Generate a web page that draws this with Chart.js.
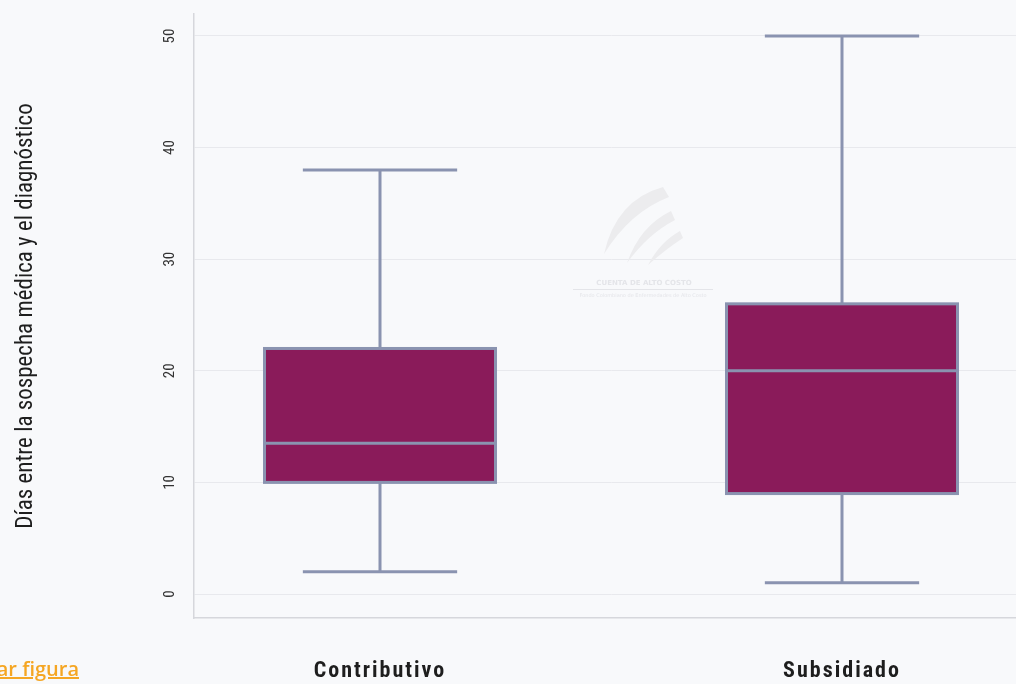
<!DOCTYPE html>
<html>
<head>
<meta charset="utf-8">
<script src="https://cdn.jsdelivr.net/npm/chart.js@4.4.0/dist/chart.umd.min.js"></script>
<style>
  html, body { margin: 0; padding: 0; background: #f8f9fb; overflow: hidden; }
  .wrap { position: relative; width: 1040px; height: 684px; }
  .download {
    position: absolute; top: 655px; right: 961px; white-space: nowrap;
    font-family: 'Open Sans', Lato, sans-serif; font-weight: 600; font-size: 20px;
    color: #f5a623; text-decoration: underline;
  }
</style>
</head>
<body>
<div class="wrap">
  <canvas id="myChart" width="1040" height="684"></canvas>
  <span class="download">Descargar figura</span>
</div>
<script>
// datos del boxplot
const categories = ['Contributivo', 'Subsidiado'];
const whiskerLow = [2, 1];
const q1 = [10, 9];
const median = [13.5, 20];
const q3 = [22, 26];
const whiskerHigh = [38, 50];
const yTicks = [0, 10, 20, 30, 40, 50];

const boxColor = '#8a1b5a';
const edgeColor = '#8a93b0';
const condensed = "'Roboto Condensed', 'DejaVu Sans Condensed', sans-serif";

// dibuja las cajas con las escalas del chart
const boxPlot = {
    id: 'boxPlot',
    afterDatasetsDraw(chart) {
        const {ctx, scales: {x, y}} = chart;
        const boxHalf = 0.25;
        const capHalf = 0.167;
        ctx.save();
        ctx.lineWidth = 3;
        ctx.strokeStyle = edgeColor;
        categories.forEach((cat, i) => {
            const cx = x.getPixelForValue(i);
            const lo = y.getPixelForValue(whiskerLow[i]);
            const hi = y.getPixelForValue(whiskerHigh[i]);
            const b1 = y.getPixelForValue(q1[i]);
            const b3 = y.getPixelForValue(q3[i]);
            const md = y.getPixelForValue(median[i]);

            ctx.beginPath();
            ctx.moveTo(cx, lo); ctx.lineTo(cx, b1);
            ctx.moveTo(cx, b3); ctx.lineTo(cx, hi);
            ctx.moveTo(x.getPixelForValue(i - capHalf), lo); ctx.lineTo(x.getPixelForValue(i + capHalf), lo);
            ctx.moveTo(x.getPixelForValue(i - capHalf), hi); ctx.lineTo(x.getPixelForValue(i + capHalf), hi);
            ctx.stroke();

            const left = x.getPixelForValue(i - boxHalf);
            const right = x.getPixelForValue(i + boxHalf);
            ctx.fillStyle = boxColor;
            ctx.fillRect(left, b3, right - left, b1 - b3);
            ctx.strokeRect(left, b3, right - left, b1 - b3);

            ctx.beginPath();
            ctx.moveTo(left, md); ctx.lineTo(right, md);
            ctx.stroke();
        });
        ctx.restore();
        // las etiquetas del eje x (z: 1) van con espaciado
        ctx.letterSpacing = '2px';
    },
    afterDraw(chart) {
        chart.ctx.letterSpacing = '0px';
    }
};

// marca de agua (logo tenue)
const watermark = {
    id: 'watermark',
    beforeDatasetsDraw(chart) {
        const {ctx} = chart;
        ctx.save();
        ctx.fillStyle = '#ececee';
        const leaves = [
            [604, 254, 616, 200, 663, 187, 669, 197, 630, 212],
            [627, 263, 640, 226, 671, 211, 675, 220, 648, 234],
            [648, 265, 660, 242, 680, 231, 683, 238, 666, 249],
        ];
        leaves.forEach(l => {
            ctx.beginPath();
            ctx.moveTo(l[0], l[1]);
            ctx.quadraticCurveTo(l[2], l[3], l[4], l[5]);
            ctx.lineTo(l[6], l[7]);
            ctx.quadraticCurveTo(l[8], l[9], l[0], l[1]);
            ctx.fill();
        });

        ctx.fillStyle = '#e4e5e9';
        ctx.textAlign = 'center';
        ctx.font = "bold 7px 'DejaVu Sans', sans-serif";
        ctx.fillText('CUENTA DE ALTO COSTO', 644, 285);
        ctx.fillRect(573, 289, 140, 1);
        ctx.font = "5px 'DejaVu Sans', sans-serif";
        ctx.fillText('Fondo Colombiano de Enfermedades de Alto Costo', 643, 297);
        ctx.restore();
    }
};

const ctx = document.getElementById('myChart').getContext('2d');
const myChart = new Chart(ctx, {
    type: 'scatter',
    plugins: [boxPlot, watermark],
    data: {
        datasets: [{
            data: categories.map((c, i) => ({x: i, y: median[i]})),
            pointRadius: 0,
            pointHoverRadius: 0,
        }]
    },
    options: {
        responsive: false,
        animation: false,
        events: [],
        layout: {padding: {top: 14, right: 12, bottom: 2, left: 0}},
        plugins: {legend: {display: false}, tooltip: {enabled: false}},
        scales: {
            x: {
                type: 'linear',
                min: -0.4026,
                max: 1.4026,
                afterBuildTicks: s => { s.ticks = categories.map((c, i) => ({value: i})); },
                afterFit: s => { s.height = 64; },
                grid: {display: false, drawTicks: false},
                border: {display: true, color: '#d6d7dc', width: 1.5},
                ticks: {
                    z: 1,
                    autoSkip: false,
                    maxRotation: 0,
                    padding: 40,
                    color: '#1e1e1e',
                    font: {family: condensed, size: 22, weight: 'bold'},
                    callback: v => categories[v],
                },
            },
            y: {
                min: -2.15,
                max: 51.97,
                afterBuildTicks: s => { s.ticks = yTicks.map(v => ({value: v})); },
                afterFit: s => { s.width = 194; s.paddingTop = 0; s.paddingBottom = 0; },
                grid: {color: '#e8e9ed', drawTicks: false},
                border: {display: true, color: '#d6d7dc', width: 1.5},
                ticks: {
                    minRotation: 90,
                    maxRotation: 90,
                    crossAlign: 'center',
                    padding: 16,
                    color: '#333',
                    font: {family: condensed, size: 15},
                },
                title: {
                    display: true,
                    text: 'Días entre la sospecha médica y el diagnóstico',
                    color: '#1e1e1e',
                    font: {family: condensed, size: 23},
                    padding: {top: 12, bottom: 0},
                },
            },
        },
    },
});
</script>
</body>
</html>
